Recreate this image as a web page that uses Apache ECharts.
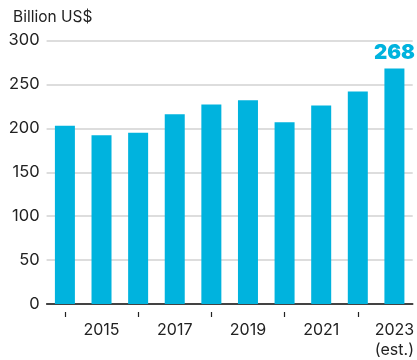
<!DOCTYPE html>
<html>
<head>
<meta charset="utf-8">
<script src="https://cdn.jsdelivr.net/npm/echarts@6/dist/echarts.min.js"></script>
<style>
  html, body { margin: 0; padding: 0; background: #fff; }
  #chart { width: 417px; height: 360px; }
</style>
</head>
<body>
<div id="chart"></div>
<script>
// Annual values, billion US$
const years = ['2014', '2015', '2016', '2017', '2018', '2019', '2020', '2021', '2022', '2023'];
const values = [203, 192, 195, 216, 227, 232, 207, 226, 242, 268];
const yTicks = [0, 50, 100, 150, 200, 250, 300];
const unitLabel = 'Billion US$';
const lastYearNote = '(est.)';

const FONT = 'Inter';
const TEXT = '#222222';
const BAR = '#00B3DE';

const chart = echarts.init(document.getElementById('chart'), null, { renderer: 'canvas' });

const lastIdx = values.length - 1;

chart.setOption({
  animation: false,
  textStyle: { fontFamily: FONT },
  graphic: [{
    type: 'text',
    left: 13,
    top: 9,
    style: { text: unitLabel, fontFamily: FONT, fontSize: 15.5, fill: TEXT }
  }],
  grid: { left: 46.6, right: 1, top: 40.5, bottom: 55 },
  xAxis: [{
    type: 'category',
    data: years,
    axisLine: { lineStyle: { color: '#111', width: 1.5 } },
    axisTick: { show: false },
    axisLabel: {
      interval: 0,
      margin: 16,
      color: TEXT,
      fontFamily: FONT,
      fontSize: 16,
      lineHeight: 20,
      formatter: function (v, i) {
        if (i % 2 === 0) return '';
        return i === lastIdx ? v + '\n' + lastYearNote : v;
      }
    }
  }, {
    // short separated tick marks under each category
    type: 'category',
    data: years,
    position: 'bottom',
    offset: 8,
    axisLine: { show: false },
    axisTick: { show: true, alignWithLabel: true, length: 5, lineStyle: { color: '#222', width: 1.2 } },
    axisLabel: { show: false }
  }],
  yAxis: {
    type: 'value',
    min: yTicks[0],
    max: yTicks[yTicks.length - 1],
    interval: yTicks[1] - yTicks[0],
    axisLine: { show: false },
    axisTick: { show: false },
    axisLabel: { color: TEXT, fontFamily: FONT, fontSize: 16.5, margin: 7 },
    splitLine: { lineStyle: { color: '#d2d2d2', width: 1.5 } }
  },
  series: [{
    type: 'bar',
    xAxisIndex: 0,
    barWidth: 20,
    data: values.map(function (v, i) {
      const item = { value: v, itemStyle: { color: BAR } };
      if (i === lastIdx) {
        item.label = {
          show: true,
          position: 'top',
          distance: 5,
          color: BAR,
          fontFamily: FONT,
          fontWeight: 900,
          fontSize: 20.5,
          formatter: '{c}'
        };
      }
      return item;
    })
  }]
});
</script>
</body>
</html>
